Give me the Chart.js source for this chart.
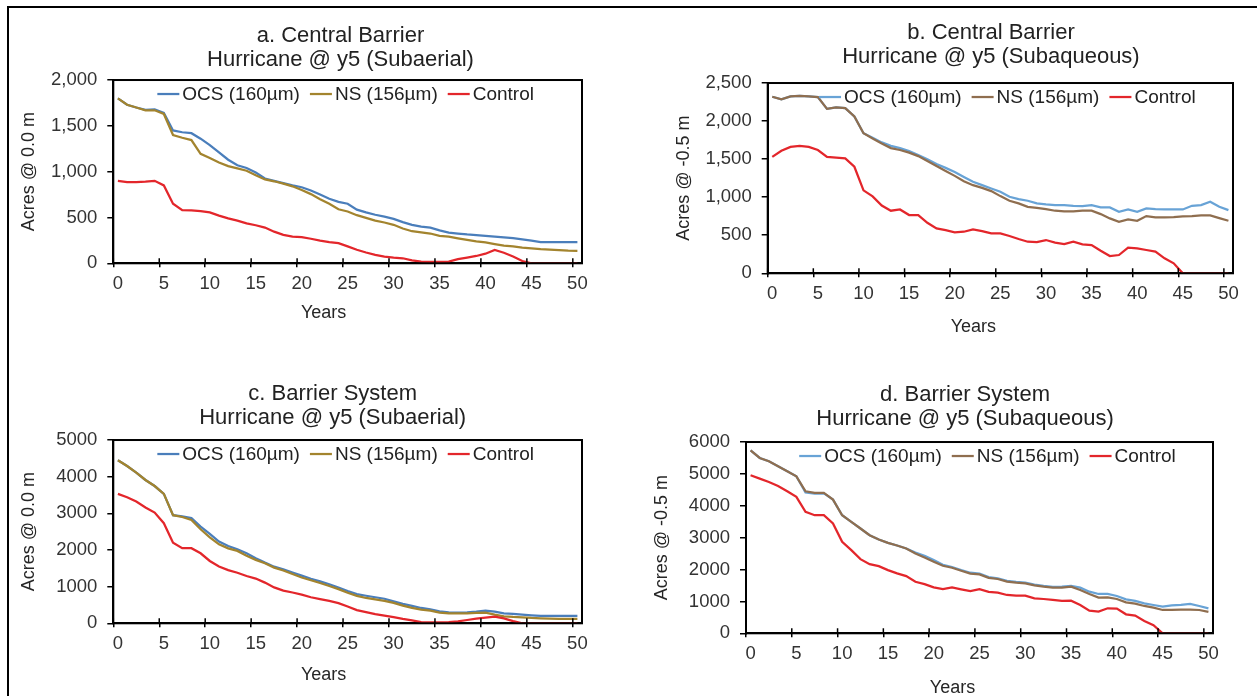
<!DOCTYPE html>
<html>
<head>
<meta charset="utf-8">
<script src="https://cdn.jsdelivr.net/npm/chart.js@4.4.1/dist/chart.umd.min.js"></script>
<style>
  body { margin: 0; background: #fff; }
  #page { position: relative; width: 1257px; height: 696px; overflow: hidden; background: #fff; }
  #frame { position: absolute; left: 7px; top: 6px; right: -10px; bottom: -10px;
           border-left: 2px solid #000; border-top: 2px solid #000; }
  canvas { position: absolute; }
</style>
</head>
<body>
<div id="page">
  <div id="frame"></div>
  <canvas id="chartA" width="628" height="345" style="left:0;top:0"></canvas>
  <canvas id="chartB" width="629" height="345" style="left:628px;top:0"></canvas>
  <canvas id="chartC" width="628" height="351" style="left:0;top:345px"></canvas>
  <canvas id="chartD" width="629" height="351" style="left:628px;top:345px"></canvas>
</div>
<script>
// years 0..50
const years = ["0","1","2","3","4","5","6","7","8","9","10","11","12","13","14","15","16","17","18","19","20",
  "21","22","23","24","25","26","27","28","29","30","31","32","33","34","35","36","37","38","39","40",
  "41","42","43","44","45","46","47","48","49","50"];
const seriesNames = ["OCS (160\u00b5m)", "NS (156\u00b5m)", "Control"];

// a. Central Barrier, subaerial (acres @ 0.0 m)
const ocsA = [1800,1730,1700,1675,1680,1640,1450,1430,1420,1360,1290,1210,1130,1070,1040,990,925,900,875,850,
  830,795,750,705,670,650,585,555,530,510,485,450,420,400,390,360,335,325,315,308,300,292,282,274,262,248,232,232,230,230,230];
const nsA = [1800,1730,1700,1670,1670,1630,1400,1370,1345,1195,1150,1100,1060,1035,1010,960,915,895,870,840,
  800,755,700,650,590,565,525,495,465,445,420,380,350,337,325,300,290,272,255,240,228,210,192,185,172,163,155,150,143,137,135];
const ctrlA = [900,885,885,890,900,850,650,580,578,570,555,520,490,465,435,415,390,345,310,290,
  285,268,248,232,220,185,148,118,92,74,62,55,32,18,15,15,18,45,62,80,105,145,115,75,25,0,0,0,0,0,0];

// b. Central Barrier, subaqueous (acres @ -0.5 m)
const ocsB = [2320,2285,2325,2330,2325,2316,2160,2180,2170,2060,1840,1780,1720,1675,1645,1605,1555,1500,1435,1385,
  1330,1265,1202,1158,1115,1071,1005,975,953,918,905,896,896,887,883,896,865,865,808,839,808,852,843,839,839,839,887,896,940,874,830];
const nsB = [2320,2285,2325,2330,2325,2316,2160,2180,2170,2060,1840,1770,1705,1645,1620,1585,1540,1475,1410,1345,
  1280,1210,1158,1123,1080,1014,953,918,874,860,843,822,813,813,822,822,778,721,677,708,690,752,734,734,739,747,752,760,760,725,690];
const ctrlB = [1530,1610,1660,1675,1660,1620,1530,1520,1510,1400,1090,1010,890,822,839,765,765,664,590,568,
  538,546,577,555,524,524,490,450,415,411,437,402,385,415,380,371,297,227,240,337,328,306,284,197,131,0,0,0,0,0,0];

// c. Barrier System, subaerial (acres @ 0.0 m)
const ocsC = [4450,4290,4110,3910,3745,3530,2950,2920,2870,2640,2440,2230,2110,2020,1910,1775,1655,1545,1475,1385,
  1300,1215,1145,1065,978,882,798,752,711,670,600,530,475,418,382,327,300,291,300,318,345,318,273,255,236,218,200,200,200,200,200];
const nsC = [4450,4290,4110,3910,3745,3530,2950,2900,2820,2565,2345,2155,2045,1975,1845,1730,1640,1520,1440,1345,
  1250,1175,1100,1018,933,833,750,691,650,612,557,484,423,373,345,291,273,273,273,282,291,236,191,173,164,145,136,127,118,118,118];
const ctrlC = [3530,3440,3320,3160,3020,2730,2200,2050,2050,1910,1700,1550,1450,1380,1290,1220,1110,980,890,840,
  780,710,660,610,550,460,360,305,250,210,170,120,80,35,25,25,35,55,90,125,155,180,135,60,0,0,0,0,0,0,0];

// d. Barrier System, subaqueous (acres @ -0.5 m)
const ocsD = [5740,5500,5395,5238,5082,4925,4420,4380,4390,4195,3704,3496,3287,3078,2943,2838,2755,2661,2530,2431,
  2296,2150,2080,1985,1900,1870,1765,1725,1645,1610,1590,1530,1490,1460,1463,1484,1431,1306,1233,1233,1170,1066,1014,940,888,836,878,888,920,857,784];
const nsD = [5740,5500,5395,5238,5082,4925,4456,4404,4404,4195,3704,3496,3287,3078,2943,2838,2755,2661,2504,2379,
  2243,2118,2056,1962,1870,1845,1740,1703,1620,1588,1567,1505,1463,1431,1431,1463,1358,1233,1118,1128,1076,972,930,857,805,731,731,742,742,731,669];
const ctrlD = [4957,4852,4748,4623,4456,4278,3809,3704,3704,3444,2870,2609,2327,2170,2108,1983,1878,1795,1617,1544,
  1440,1388,1440,1380,1320,1385,1300,1275,1202,1181,1181,1097,1076,1045,1014,1024,888,711,679,784,773,596,554,387,255,0,0,0,0,0,0];

const FONT = '"Liberation Sans", Arial, sans-serif';
const RED = "#e3262b";

Chart.defaults.font.family = FONT;
Chart.defaults.color = "#333";

// plot frame, inner x tick marks, legend inside the plot and axis titles
const panelDecor = {
  id: "panelDecor",
  afterLayout(chart, args, opts) {
    // the two-line title sits a little right of the padded box centre
    const t = chart.titleBlock;
    if (t) {
      t.left += opts.titleDx;
      t.right += opts.titleDx;
    }
  },
  afterDatasetsDraw(chart, args, opts) {
    const ctx = chart.ctx;
    const a = chart.chartArea;
    const xs = chart.scales.x;
    ctx.save();

    ctx.strokeStyle = "#000";
    ctx.lineWidth = 2;
    ctx.strokeRect(a.left, a.top, a.width, a.height);

    const half = (xs.getPixelForValue(1) - xs.getPixelForValue(0)) / 2;
    ctx.lineWidth = 1.5;
    ctx.beginPath();
    for (let i = 0; i < years.length; i += 5) {
      const px = xs.getPixelForValue(i) - half;
      ctx.moveTo(px, a.bottom);
      ctx.lineTo(px, a.bottom - 5);
    }
    ctx.stroke();

    // legend
    ctx.font = "19px " + FONT;
    ctx.textBaseline = "middle";
    ctx.textAlign = "left";
    const seg = 22, gap = 3, space = 10;
    const items = chart.data.datasets.map(d => ({ label: d.label, color: d.borderColor, w: ctx.measureText(d.label).width }));
    let total = 0;
    items.forEach(it => { total += seg + gap + it.w; });
    total += space * (items.length - 1);
    let x = (a.left + a.right) / 2 + opts.legendDx - total / 2;
    const ly = a.top + 14;
    items.forEach(it => {
      ctx.strokeStyle = it.color;
      ctx.lineWidth = 2.25;
      ctx.beginPath();
      ctx.moveTo(x, ly);
      ctx.lineTo(x + seg, ly);
      ctx.stroke();
      ctx.fillStyle = "#222";
      ctx.fillText(it.label, x + seg + gap, ly + 1);
      x += seg + gap + it.w + space;
    });

    // axis titles
    ctx.font = "18px " + FONT;
    ctx.fillStyle = "#262626";
    ctx.textAlign = "center";
    ctx.fillText("Years", (a.left + a.right) / 2 + opts.xTitleDx, a.bottom + opts.xTitleDy);
    ctx.translate(a.left + opts.yTitleDx, (a.top + a.bottom) / 2);
    ctx.rotate(-Math.PI / 2);
    ctx.fillText(opts.yTitle, 0, 0);

    ctx.restore();
  }
};

function makePanel(id, p) {
  const ctx = document.getElementById(id).getContext("2d");
  return new Chart(ctx, {
    type: "line",
    data: {
      labels: years,
      datasets: [
        { label: seriesNames[0], data: p.ocs, borderColor: p.ocsColor, order: 3 },
        { label: seriesNames[1], data: p.ns, borderColor: p.nsColor, order: 2 },
        { label: seriesNames[2], data: p.ctrl, borderColor: RED, order: 1 }
      ]
    },
    options: {
      responsive: false,
      animation: false,
      devicePixelRatio: 1,
      elements: {
        point: { radius: 0 },
        line: { borderWidth: 2.25, tension: 0, fill: false }
      },
      layout: { padding: { left: p.padLeft, right: p.padRight, top: 0, bottom: 0 } },
      plugins: {
        legend: { display: false },
        tooltip: { enabled: false },
        title: {
          display: true,
          text: p.title,
          color: "#222",
          font: { size: 22, weight: "normal", lineHeight: 1.08 },
          padding: { top: p.titleTop, bottom: p.titleBottom }
        },
        panelDecor: {
          legendDx: p.legendDx, xTitleDx: p.xTitleDx, xTitleDy: p.xTitleDy,
          yTitleDx: -84, yTitle: p.yTitle, titleDx: p.titleDx
        }
      },
      scales: {
        x: {
          type: "category",
          offset: true,
          grid: {
            offset: true,
            drawOnChartArea: false,
            tickLength: 4,
            lineWidth: 1.5,
            tickColor: c => (c.index % 5 === 0 ? "#000" : "rgba(0,0,0,0)")
          },
          border: { display: true, color: "#000", width: 2 },
          ticks: {
            autoSkip: false,
            maxRotation: 0,
            padding: 6,
            font: { size: 18.5 },
            callback: (v, i) => (i % 5 === 0 ? years[i] : "")
          },
          afterFit: s => { s.height = p.xHeight; }
        },
        y: {
          min: 0,
          max: p.yMax,
          grid: { drawOnChartArea: false, tickLength: 6, lineWidth: 1.5, tickColor: "#000" },
          border: { display: true, color: "#000", width: 2 },
          ticks: {
            stepSize: p.yStep,
            padding: 10,
            font: { size: 18.5 },
            callback: v => (p.commas ? v.toLocaleString("en-US") : String(v))
          },
          afterFit: s => { s.width = 70; }
        }
      }
    },
    plugins: [panelDecor]
  });
}

makePanel("chartA", {
  title: ["a. Central Barrier", "Hurricane @ y5 (Subaerial)"],
  yTitle: "Acres @ 0.0 m",
  ocs: ocsA, ns: nsA, ctrl: ctrlA,
  ocsColor: "#4a7ebb", nsColor: "#a3842e",
  yMax: 2000, yStep: 500, commas: true,
  padLeft: 43.3, padRight: 46, xHeight: 81.7,
  titleTop: 24.1, titleBottom: 8.4, titleDx: 27.8,
  legendDx: -2, xTitleDx: -24, xTitleDy: 50
});

makePanel("chartB", {
  title: ["b. Central Barrier", "Hurricane @ y5 (Subaqueous)"],
  yTitle: "Acres @ -0.5 m",
  ocs: ocsB, ns: nsB, ctrl: ctrlB,
  ocsColor: "#68a3d6", nsColor: "#8f6e4f",
  yMax: 2500, yStep: 500, commas: true,
  padLeft: 69.7, padRight: 24, xHeight: 71.7,
  titleTop: 21.1, titleBottom: 14.4, titleDx: 25.6,
  legendDx: 7, xTitleDx: -27, xTitleDy: 54
});

makePanel("chartC", {
  title: ["c. Barrier System", "Hurricane @ y5 (Subaerial)"],
  yTitle: "Acres @ 0.0 m",
  ocs: ocsC, ns: nsC, ctrl: ctrlC,
  ocsColor: "#4a7ebb", nsColor: "#a3842e",
  yMax: 5000, yStep: 1000, commas: false,
  padLeft: 43.3, padRight: 46, xHeight: 72.7,
  titleTop: 37.1, titleBottom: 10.4, titleDx: 20,
  legendDx: -2, xTitleDx: -24, xTitleDy: 52
});

makePanel("chartD", {
  title: ["d. Barrier System", "Hurricane @ y5 (Subaqueous)"],
  yTitle: "Acres @ -0.5 m",
  ocs: ocsD, ns: nsD, ctrl: ctrlD,
  ocsColor: "#68a3d6", nsColor: "#8f6e4f",
  yMax: 6000, yStep: 1000, commas: false,
  padLeft: 48, padRight: 44, xHeight: 62.7,
  titleTop: 38.4, titleBottom: 11.1, titleDx: 20.5,
  legendDx: 8, xTitleDx: -27, xTitleDy: 55
});
</script>
</body>
</html>
